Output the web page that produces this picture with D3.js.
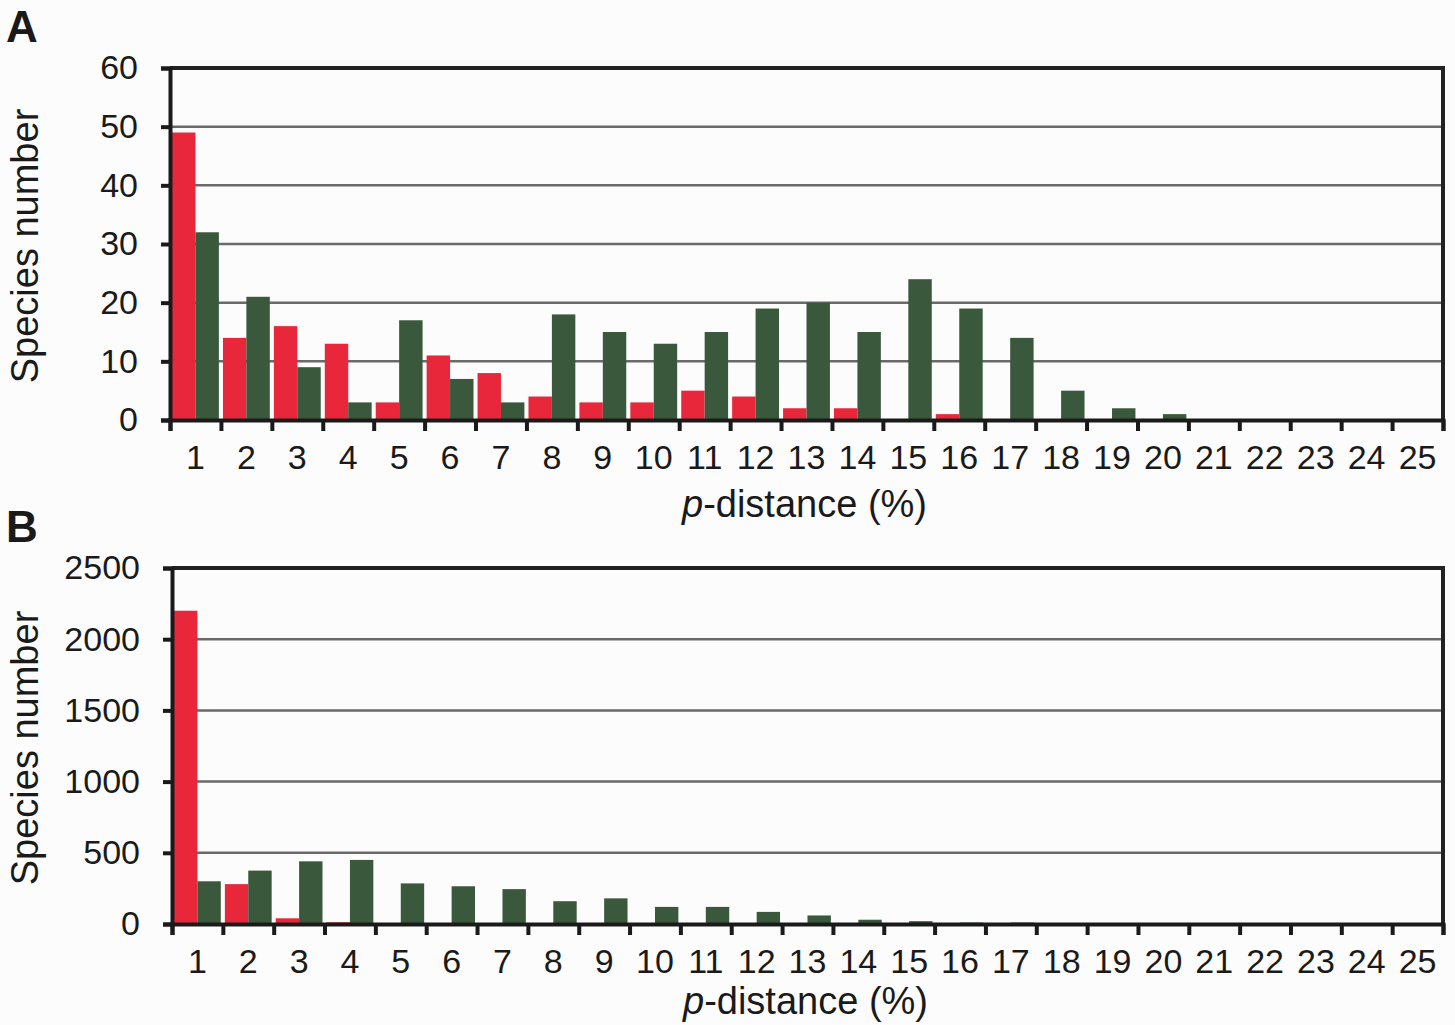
<!DOCTYPE html>
<html>
<head>
<meta charset="utf-8">
<script src="https://cdn.jsdelivr.net/npm/d3@7"></script>
<style>
  body { margin: 0; background: #fcfcfc; }
  svg { display: block; font-family: "Liberation Sans", Arial, sans-serif; }
  .tick text { fill: #1a1a1a; }
</style>
</head>
<body>
<div id="chart"></div>
<script>
// p-distance bins (%)
var categories = d3.range(1, 26).map(String);

// panel A
var redA   = [49, 14, 16, 13, 3, 11, 8, 4, 3, 3, 5, 4, 2, 2, 0, 1, 0, 0, 0, 0, 0, 0, 0, 0, 0];
var greenA = [32, 21, 9, 3, 17, 7, 3, 18, 15, 13, 15, 19, 20, 15, 24, 19, 14, 5, 2, 1, 0, 0, 0, 0, 0];
var ticksA = [0, 10, 20, 30, 40, 50, 60];

// panel B
var redB   = [2200, 280, 40, 12, 0, 0, 0, 0, 0, 0, 0, 0, 0, 0, 0, 0, 0, 0, 0, 0, 0, 0, 0, 0, 0];
var greenB = [300, 375, 440, 450, 285, 265, 245, 160, 180, 120, 120, 85, 60, 30, 20, 10, 10, 3, 0, 0, 0, 0, 0, 0, 0];
var ticksB = [0, 500, 1000, 1500, 2000, 2500];

var RED = "#e8283a", GREEN = "#3a583b";

var svg = d3.select("#chart").append("svg")
	.attr("width", 1455)
	.attr("height", 1025);

svg.append("rect").attr("width", 1455).attr("height", 1025).attr("fill", "#fcfcfc");

function drawPanel(opts){
	var g = svg.append("g")
		.attr("transform", "translate(" + opts.left + "," + opts.top + ")");
	var width = opts.width, height = opts.height;

	var x = d3.scaleBand()
		.domain(categories)
		.range([0, width])
		.paddingInner(0.08)
		.paddingOuter(0.04);
	var xs = d3.scaleBand().domain(["r", "g"]).range([0, x.bandwidth()]);
	var xEdge = d3.scaleLinear().domain([0, 25]).range([0, width]);

	var y = d3.scaleLinear()
		.domain([0, opts.ticks[opts.ticks.length - 1]])
		.range([height, 0]);

	// gridlines
	g.selectAll(".grid")
		.data(opts.ticks.slice(1, -1))
		.enter().append("line")
		.attr("x1", 0).attr("x2", width)
		.attr("y1", d => y(d)).attr("y2", d => y(d))
		.attr("stroke", "#6a6a6a")
		.attr("stroke-width", 2.5);

	// bars
	var rows = categories.map(function(c, i){
		return {cat: c, r: opts.red[i], g: opts.green[i]};
	});
	var grp = g.selectAll(".bin")
		.data(rows)
		.enter().append("g")
		.attr("transform", d => "translate(" + x(d.cat) + ",0)");
	grp.append("rect")
		.attr("x", xs("r"))
		.attr("width", xs.bandwidth())
		.attr("y", d => y(d.r))
		.attr("height", d => height - y(d.r))
		.attr("fill", RED);
	grp.append("rect")
		.attr("x", xs("g"))
		.attr("width", xs.bandwidth())
		.attr("y", d => y(d.g))
		.attr("height", d => height - y(d.g))
		.attr("fill", GREEN);

	// frame top and right
	g.append("path")
		.attr("d", "M0,0H" + width + "V" + height)
		.attr("fill", "none")
		.attr("stroke", "#222")
		.attr("stroke-width", 4);

	// y axis
	var yAxis = g.append("g")
		.call(d3.axisLeft(y).tickValues(opts.ticks).tickSize(9).tickPadding(23).tickFormat(d3.format("d")));
	yAxis.select(".domain").attr("stroke", "#1a1a1a").attr("stroke-width", 4);
	yAxis.selectAll(".tick line").attr("stroke", "#1a1a1a").attr("stroke-width", 4);
	yAxis.selectAll(".tick text").attr("font-size", 34);

	// x axis: ticks at bin edges
	var xTicks = g.append("g")
		.attr("transform", "translate(0," + height + ")")
		.call(d3.axisBottom(xEdge).tickValues(d3.range(0, 26)).tickSize(11).tickFormat(""));
	xTicks.select(".domain").attr("stroke", "#1a1a1a").attr("stroke-width", 4);
	xTicks.selectAll(".tick line").attr("stroke", "#1a1a1a").attr("stroke-width", 4);

	// x labels at bin centres
	var xLab = g.append("g")
		.attr("transform", "translate(0," + height + ")")
		.call(d3.axisBottom(x).tickSize(0).tickPadding(25));
	xLab.select(".domain").remove();
	xLab.selectAll(".tick text").attr("font-size", 34);

	// axis titles
	var t = g.append("text")
		.attr("x", width / 2 - 2)
		.attr("y", height + opts.titleDy)
		.attr("text-anchor", "middle")
		.attr("font-size", 38)
		.attr("fill", "#1a1a1a");
	t.append("tspan").attr("font-style", "italic").text("p");
	t.append("tspan").text("-distance (%)");

	g.append("text")
		.attr("transform", "translate(" + (-opts.left + 38) + "," + (height / 2 + 2) + ") rotate(-90)")
		.attr("text-anchor", "middle")
		.attr("font-size", 38)
		.attr("fill", "#1a1a1a")
		.text("Species number");

	svg.append("text")
		.attr("x", 6)
		.attr("y", opts.top - 26)
		.attr("font-size", 44)
		.attr("font-weight", "bold")
		.attr("fill", "#1a1a1a")
		.text(opts.label);
}

drawPanel({label: "A", left: 170, top: 68, width: 1273, height: 352, titleDy: 97,
	red: redA, green: greenA, ticks: ticksA});
drawPanel({label: "B", left: 172, top: 568, width: 1271, height: 356, titleDy: 90,
	red: redB, green: greenB, ticks: ticksB});
</script>
</body>
</html>
